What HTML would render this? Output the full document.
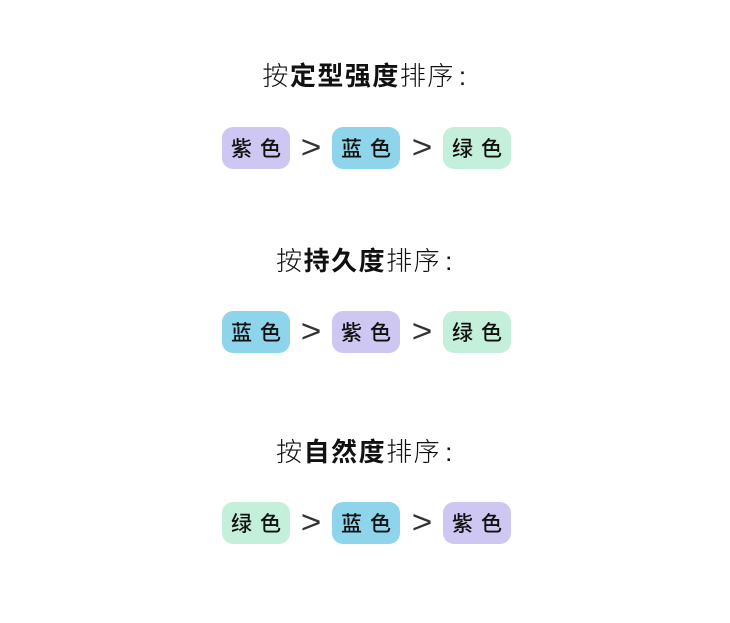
<html><head><style>
body{margin:0;width:730px;height:623px;background:#fff;font-family:"Liberation Sans","Noto Sans CJK SC",sans-serif;position:relative;overflow:hidden}
.t{position:absolute;left:0;width:730px;text-align:center;font-size:26px;font-weight:300;color:#111;line-height:30px;letter-spacing:1.5px}
.t b{font-weight:700}
.t i{font-style:normal;margin-left:4px}
.b{position:absolute;width:68px;height:42px;border-radius:11px;text-align:center;line-height:45px;font-size:21px;font-weight:500;letter-spacing:8px;text-indent:8px;color:#111}
.p{background:#cdc7f1}.u{background:#8ed5eb}.g{background:#c4efdb}
.gt{position:absolute;width:40px;text-align:center;font-size:32px;font-weight:100;line-height:45px;color:#333;transform:scaleX(1.1)}
</style></head><body>
<div class="t" style="top:61px">按<b>定型强度</b>排序<i>:</i></div>
<div class="b p" style="left:222px;top:127px">紫色</div><div class="gt" style="left:291px;top:125px">&gt;</div>
<div class="b u" style="left:332px;top:127px">蓝色</div><div class="gt" style="left:402px;top:125px">&gt;</div>
<div class="b g" style="left:443px;top:127px">绿色</div>
<div class="t" style="top:246px">按<b>持久度</b>排序<i>:</i></div>
<div class="b u" style="left:222px;top:311px">蓝色</div><div class="gt" style="left:291px;top:309px">&gt;</div>
<div class="b p" style="left:332px;top:311px">紫色</div><div class="gt" style="left:402px;top:309px">&gt;</div>
<div class="b g" style="left:443px;top:311px">绿色</div>
<div class="t" style="top:437px">按<b>自然度</b>排序<i>:</i></div>
<div class="b g" style="left:222px;top:502px">绿色</div><div class="gt" style="left:291px;top:500px">&gt;</div>
<div class="b u" style="left:332px;top:502px">蓝色</div><div class="gt" style="left:402px;top:500px">&gt;</div>
<div class="b p" style="left:443px;top:502px">紫色</div>
</body></html>
